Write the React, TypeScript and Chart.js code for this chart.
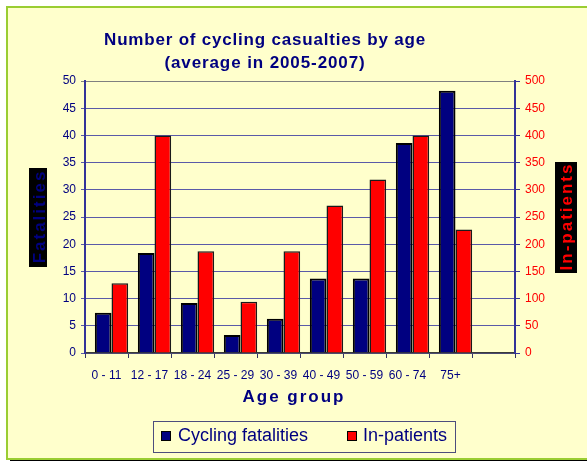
import React, { useEffect, useRef } from "react";
import { Chart, registerables } from "chart.js";

Chart.register(...registerables);

const categories = ["0 - 11", "12 - 17", "18 - 24", "25 - 29", "30 - 39", "40 - 49", "50 - 59", "60 - 74", "75+", ""];
const fatalities = [7.4, 18.4, 9.2, 3.3, 6.3, 13.7, 13.7, 38.6, 48.2, null];
const inPatients = [128, 400, 187, 94, 187, 271, 319, 400, 227, null];
const seriesNames = ["Cycling fatalities", "In-patients"];
const titleLines = ["Number of cycling casualties by age", "(average in 2005-2007)"];
const xTitle = "Age group";
const yLeftTitle = "Fatalities";
const yRightTitle = "In-patients";
const leftMax = 50;
const leftStep = 5;
const rightMax = 500;
const rightStep = 50;

const NAVY = "#000080";
const RED = "#FF0000";
const FONT = '"Liberation Sans", Arial, sans-serif';

function drawRotatedLabel(
  ctx: CanvasRenderingContext2D,
  text: string,
  box: { x: number; y: number; w: number; h: number },
  baseX: number,
  color: string
) {
  ctx.save();
  ctx.fillStyle = "#000000";
  ctx.fillRect(box.x, box.y, box.w, box.h);
  ctx.font = `bold 17px ${FONT}`;
  (ctx as any).letterSpacing = "2px";
  ctx.translate(baseX, box.y + box.h / 2);
  ctx.rotate(-Math.PI / 2);
  ctx.fillStyle = color;
  ctx.textAlign = "center";
  ctx.textBaseline = "alphabetic";
  ctx.fillText(text, 1, 0);
  ctx.restore();
}

const decorPlugin = {
  id: "decor",
  beforeDatasetsDraw(chart: any) {
    chart.ctx.save();
    chart.ctx.translate(5, 0);
  },
  afterDatasetsDraw(chart: any) {
    chart.ctx.restore();
  },
  afterDraw(chart: any) {
    const ctx: CanvasRenderingContext2D = chart.ctx;
    ctx.save();
    ctx.fillStyle = NAVY;
    ctx.textAlign = "center";
    ctx.textBaseline = "alphabetic";
    ctx.font = `bold 17px ${FONT}`;
    (ctx as any).letterSpacing = "0.8px";
    ctx.fillText(titleLines[0], 265, 44.5);
    (ctx as any).letterSpacing = "0.9px";
    ctx.fillText(titleLines[1], 265, 67.5);
    (ctx as any).letterSpacing = "2px";
    ctx.fillText(xTitle, 294, 402);
    (ctx as any).letterSpacing = "0px";
    ctx.restore();

    drawRotatedLabel(ctx, yLeftTitle, { x: 29, y: 168, w: 18, h: 99 }, 45, NAVY);
    drawRotatedLabel(ctx, yRightTitle, { x: 555, y: 162, w: 22, h: 111 }, 571.5, RED);

    // legend
    ctx.save();
    ctx.strokeStyle = "#4d4d7d";
    ctx.lineWidth = 1;
    ctx.strokeRect(153.5, 421.5, 302, 31);
    const items = [
      { x: 161, tx: 178, color: chart.data.datasets[0].backgroundColor, label: chart.data.datasets[0].label },
      { x: 347, tx: 363, color: chart.data.datasets[1].backgroundColor, label: chart.data.datasets[1].label },
    ];
    ctx.font = `18px ${FONT}`;
    ctx.textAlign = "left";
    ctx.textBaseline = "alphabetic";
    for (const it of items) {
      ctx.fillStyle = it.color;
      ctx.fillRect(it.x, 431, 10, 10);
      ctx.strokeStyle = "#000000";
      ctx.strokeRect(it.x + 0.5, 431.5, 9, 9);
      ctx.fillStyle = NAVY;
      ctx.fillText(it.label, it.tx, 441);
    }
    ctx.restore();
  },
};

export default function App() {
  const ref = useRef<HTMLCanvasElement | null>(null);

  useEffect(() => {
    if (!ref.current) return;
    const chart = new Chart(ref.current, {
      type: "bar",
      data: {
        labels: categories,
        datasets: [
          {
            label: seriesNames[0],
            data: fatalities,
            yAxisID: "y",
            backgroundColor: NAVY,
            borderColor: "#000000",
            borderWidth: 2,
            categoryPercentage: 0.775,
            barPercentage: 1,
          },
          {
            label: seriesNames[1],
            data: inPatients,
            yAxisID: "y1",
            backgroundColor: RED,
            borderColor: "#1a1a1a",
            borderWidth: 1.5,
            categoryPercentage: 0.775,
            barPercentage: 1,
          },
        ],
      },
      options: {
        animation: false,
        responsive: false,
        devicePixelRatio: 1,
        layout: { padding: { left: 0, right: 0, top: 81, bottom: 0 } },
        plugins: {
          legend: { display: false },
          title: { display: false },
          tooltip: { enabled: false },
        },
        scales: {
          x: {
            grid: { drawOnChartArea: false, offset: true, tickLength: 5, color: "#333366", lineWidth: 1 },
            border: { color: "#3a3a3a", width: 1.5 },
            ticks: {
              color: NAVY,
              font: { family: FONT, size: 12 },
              autoSkip: false,
              maxRotation: 0,
              minRotation: 0,
              padding: 10,
            },
            afterFit: (s: any) => {
              s.height = 461 - 353;
            },
          },
          y: {
            position: "left",
            min: 0,
            max: leftMax,
            ticks: { stepSize: leftStep, color: NAVY, font: { family: FONT, size: 12 }, padding: 5 },
            grid: {
              color: (c: any) => (c.tick && c.tick.value === leftMax ? "#808080" : "#5a5aa8"),
              lineWidth: 1,
              tickLength: 4,
            },
            border: { color: "#333399", width: 2 },
            afterFit: (s: any) => {
              s.width = 85;
            },
          },
          y1: {
            position: "right",
            min: 0,
            max: rightMax,
            ticks: { stepSize: rightStep, color: RED, font: { family: FONT, size: 12 }, padding: 5 },
            grid: { drawOnChartArea: false, color: "#333399", tickLength: 5 },
            border: { color: "#333399", width: 2 },
            afterFit: (s: any) => {
              s.width = 587 - 515;
            },
          },
        },
      },
      plugins: [decorPlugin],
    });
    return () => chart.destroy();
  }, []);

  return (
    <div style={{ position: "fixed", left: 0, top: 0, width: 587, height: 461, background: "#FFFFFF", overflow: "hidden" }}>
      <div
        style={{
          position: "absolute",
          left: 6,
          top: 6,
          width: 600,
          height: 450,
          background: "#FFFFCC",
          borderLeft: "2px solid #9ACD32",
          borderTop: "2px solid #9ACD32",
          borderBottom: "2px solid #9ACD32",
          boxShadow: "4px 2px 0 #000000",
        }}
      />
      <canvas ref={ref} width={587} height={461} style={{ position: "absolute", left: 0, top: 0, width: 587, height: 461 }} />
    </div>
  );
}
